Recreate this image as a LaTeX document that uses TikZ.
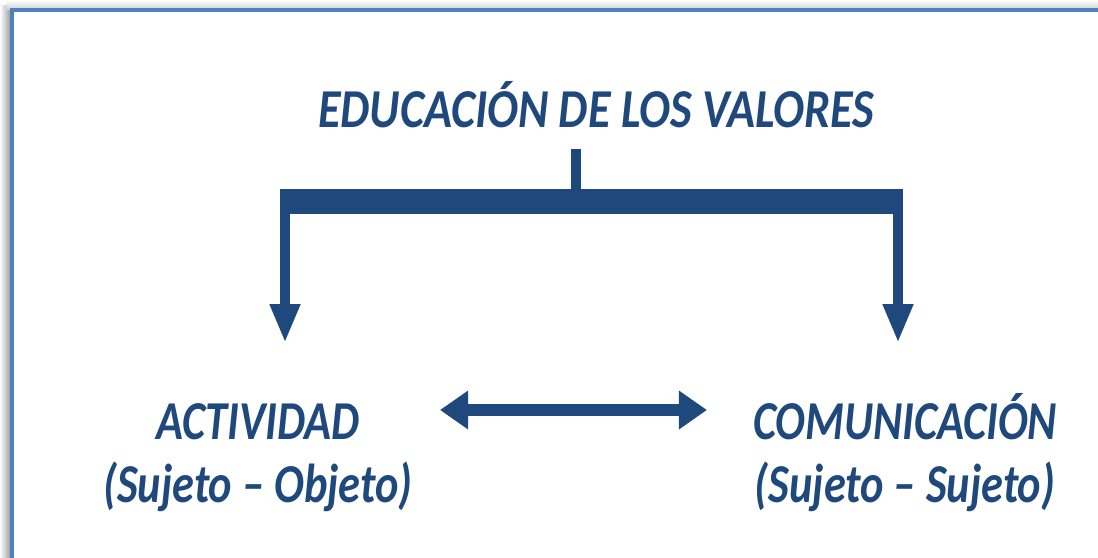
\documentclass[tikz,border=0pt]{standalone}
\usepackage{fontspec}
\setmainfont{Carlito}
\usetikzlibrary{arrows.meta}
\definecolor{azul}{RGB}{31,73,125}
\definecolor{marco}{RGB}{79,129,189}

\begin{document}
\begin{tikzpicture}[x=0.025cm, y=-0.025cm,
    texto/.style={text=azul, font=\fontsize{39}{44.5}\selectfont\bfseries\itshape, align=center, inner sep=0pt, xscale=0.81},
    rama/.style={draw=azul, line width=7.1pt, -{Triangle[width=20pt, length=27.7pt]}},
    dobleflecha/.style={draw=azul, line width=8.5pt, {Triangle[width=26.3pt, length=20pt]}-{Triangle[width=26.3pt, length=20pt]}}]
    \useasboundingbox (0,0) rectangle (1098,558);
    \clip (0,0) rectangle (1098,558);
    % sombra y marco
    \shade[left color=white, right color=black!45] (0,6) rectangle (12,558);
    \shade[top color=white, bottom color=black!20] (6,0) rectangle (1098,10);
    \draw[marco, line width=2.2pt, fill=white] (12,10) rectangle (1110,570);
    % textos
    \node[texto, anchor=base, xscale=1.04] (titulo) at (596,127) {EDUCACIÓN DE LOS VALORES};
    \node[texto, anchor=base] (actividad) at (258,502) {ACTIVIDAD\\(Sujeto – Objeto)};
    \node[texto, anchor=base] (comunicacion) at (905,502) {COMUNICACIÓN\\(Sujeto – Sujeto)};
    % llaves
    \coordinate (tallo) at (576,149);
    \coordinate (izq) at (285,214);
    \coordinate (der) at (898,214);
    \fill[azul] (280,189) rectangle (903,214);
    \draw[azul, line width=7.1pt] (tallo) -- (576,190);
    \draw[rama] (izq) -- (izq |- 0,343);
    \draw[rama] (der) -- (der |- 0,343);
    \coordinate (ai) at (440,410);
    \coordinate (ad) at (707,410);
    \draw[dobleflecha] (ai) -- (ad);
\end{tikzpicture}
\end{document}
